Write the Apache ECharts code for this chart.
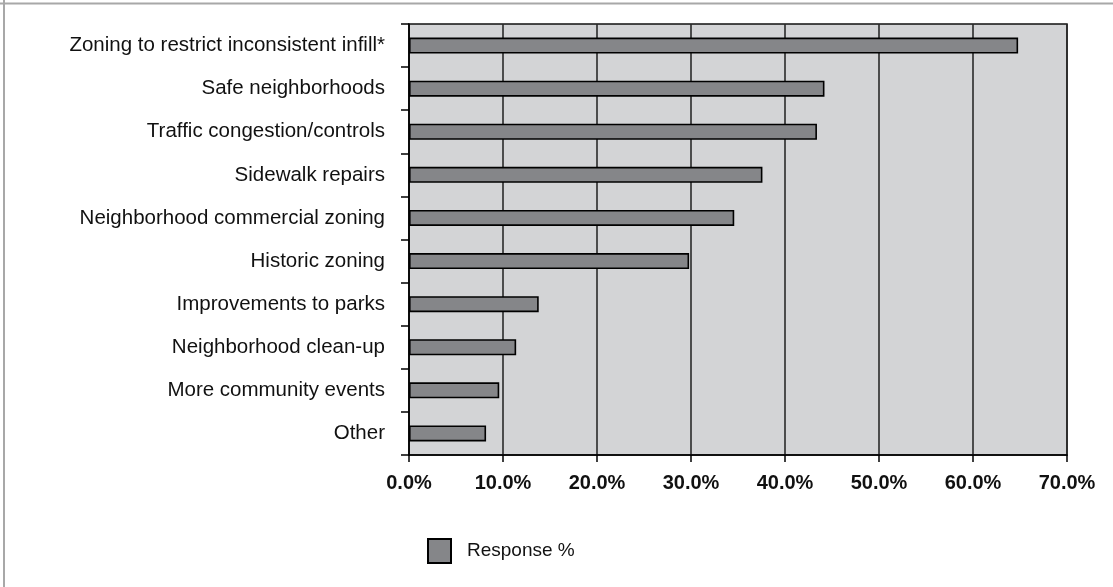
<!DOCTYPE html>
<html>
<head>
<meta charset="utf-8">
<script src="https://cdn.jsdelivr.net/npm/echarts@6/dist/echarts.min.js"></script>
<style>
html,body{margin:0;padding:0;background:#fff;}
#chart{width:1113px;height:587px;}
</style>
</head>
<body>
<div id="chart"></div>
<script>
const categories = [
  "Zoning to restrict inconsistent infill*",
  "Safe neighborhoods",
  "Traffic congestion/controls",
  "Sidewalk repairs",
  "Neighborhood commercial zoning",
  "Historic zoning",
  "Improvements to parks",
  "Neighborhood clean-up",
  "More community events",
  "Other"
];
const responsePct = [64.8, 44.2, 43.4, 37.6, 34.6, 29.8, 13.8, 11.4, 9.6, 8.2];
const seriesName = "Response %";
const xMin = 0, xMax = 70, xStep = 10;

const chart = echarts.init(document.getElementById('chart'), null, {renderer: 'canvas'});
chart.setOption({
  animation: false,
  backgroundColor: '#fff',
  textStyle: {fontFamily: 'Liberation Sans, Arial, sans-serif'},
  graphic: [
    {type: 'line', shape: {x1: 4, y1: 0, x2: 4, y2: 587}, style: {stroke: '#a8a8a8', lineWidth: 2}, silent: true},
    {type: 'line', shape: {x1: 0, y1: 3.5, x2: 1113, y2: 3.5}, style: {stroke: '#a8a8a8', lineWidth: 2}, silent: true}
  ],
  grid: {
    left: 409, top: 24, right: 46, bottom: 132,
    show: true, backgroundColor: '#d3d4d6', borderColor: '#111', borderWidth: 1.5
  },
  legend: {
    data: [seriesName],
    left: 422, top: 533,
    itemWidth: 23, itemHeight: 24,
    icon: 'rect',
    textStyle: {fontSize: 19, color: '#111', padding: [0, 0, 0, 11], fontFamily: 'Liberation Sans, Arial, sans-serif'}
  },
  xAxis: {
    type: 'value', min: xMin, max: xMax, interval: xStep,
    axisLine: {show: true, lineStyle: {color: '#000', width: 1.5}},
    axisTick: {show: true, length: 7, lineStyle: {color: '#000', width: 1.5}},
    splitLine: {show: true, lineStyle: {color: '#2a2a2a', width: 1.6}},
    axisLabel: {
      fontSize: 20, fontWeight: 'bold', color: '#111', margin: 18,
      formatter: v => v.toFixed(1) + '%'
    }
  },
  yAxis: {
    type: 'category', data: categories, inverse: true,
    axisLine: {show: true, lineStyle: {color: '#000', width: 1.5}},
    axisTick: {show: true, length: 8, lineStyle: {color: '#000', width: 1.5}},
    axisLabel: {fontSize: 20.5, color: '#111', margin: 24}
  },
  series: [{
    name: seriesName,
    type: 'bar',
    data: responsePct,
    barWidth: 16,
    itemStyle: {color: '#858689', borderColor: '#000', borderWidth: 1.6}
  }]
});
</script>
</body>
</html>
